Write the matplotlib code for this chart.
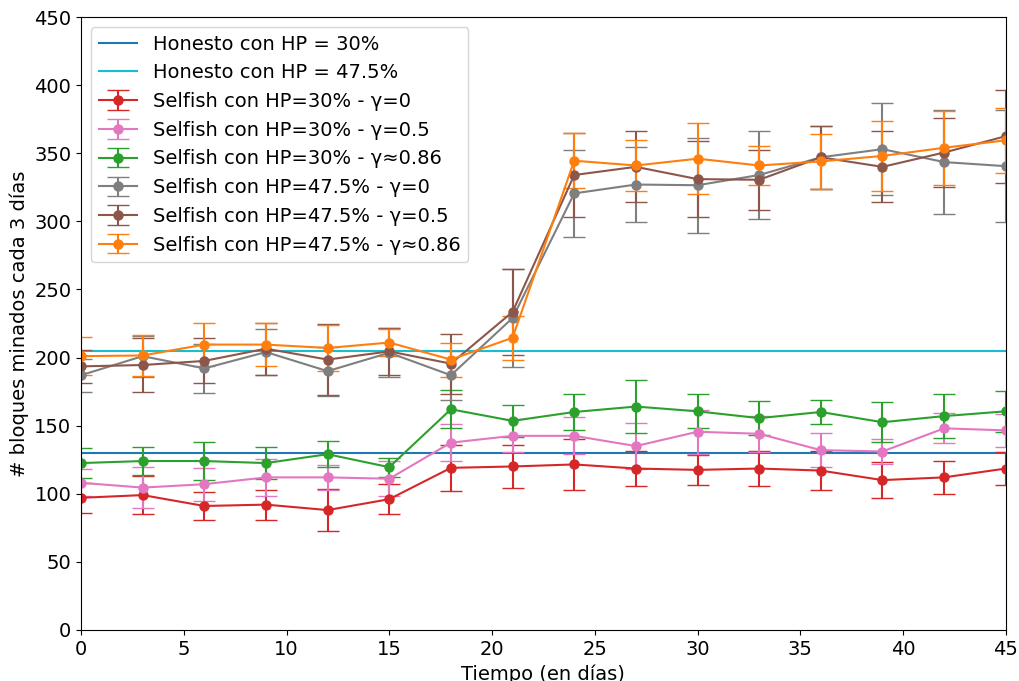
import matplotlib
matplotlib.use("Agg")
import matplotlib.pyplot as plt
import numpy as np

# tiempo en días (una medición cada 3 días)
dias = np.arange(0, 46, 3)

honesto_30 = 130
honesto_475 = 205

# Selfish HP=30%
s30_g0 = [97, 99, 91, 92, 88, 96, 119, 120, 121.5, 118.5, 117.5, 118.5, 117, 110, 112, 118.5]
s30_g0_err = [11, 14, 10, 11, 15.5, 11, 17, 16, 18.5, 13, 11, 13, 14.5, 13.5, 12, 12]
s30_g05 = [108, 104.5, 107, 112, 112, 111, 137.5, 142.5, 142.5, 135, 145.5, 144, 132, 131, 148, 146.5]
s30_g05_err = [10, 15, 12, 13.5, 9, 13, 13.5, 12, 13.5, 17, 16, 13, 12.5, 9, 11, 12]
s30_g086 = [122.5, 124, 124, 122.5, 129, 119.5, 162, 153.5, 160, 164, 160.5, 155.5, 160, 152.5, 157, 160.5]
s30_g086_err = [11, 10, 14, 11.5, 9.5, 7, 14, 11.5, 13, 19.5, 12.5, 12.5, 9, 14.5, 16, 15]

# Selfish HP=47.5%
s475_g0 = [187, 201, 192, 204, 190, 203.5, 187, 229, 320.5, 327, 326.5, 334, 347, 353, 343.5, 340.5]
s475_g0_err = [12, 15, 18, 17, 18, 18, 18, 36, 32, 27.5, 35, 32, 23, 34, 38, 41]
s475_g05 = [193.5, 194.5, 197.5, 206.5, 198.5, 204.5, 195.5, 233.5, 334, 340, 331, 330.5, 347, 340, 350.5, 362.5]
s475_g05_err = [12, 19.5, 16.5, 19, 26, 17, 22, 31.5, 31, 26, 28, 22, 23, 26, 25, 34]
s475_g086 = [201, 201.5, 209.5, 209.5, 207, 211, 198.5, 214.5, 344.5, 341, 346, 341, 344, 348, 354, 359.5]
s475_g086_err = [14, 15, 16, 16, 17, 10, 12.5, 16, 20, 19, 26, 14, 20, 26, 27, 24]

fig, ax = plt.subplots(figsize=(10.19, 6.81), dpi=100)
fig.subplots_adjust(left=0.0795, right=0.987, top=0.975, bottom=0.075)

ax.plot(dias, [honesto_30] * len(dias), color="tab:blue", linewidth=1.5, label="Honesto con HP = 30%")
ax.plot(dias, [honesto_475] * len(dias), color="tab:cyan", linewidth=1.5, label="Honesto con HP = 47.5%")

series = [
    (s30_g0, s30_g0_err, "tab:red", "Selfish con HP=30% - γ=0"),
    (s30_g05, s30_g05_err, "tab:pink", "Selfish con HP=30% - γ=0.5"),
    (s30_g086, s30_g086_err, "tab:green", "Selfish con HP=30% - γ≈0.86"),
    (s475_g0, s475_g0_err, "tab:gray", "Selfish con HP=47.5% - γ=0"),
    (s475_g05, s475_g05_err, "tab:brown", "Selfish con HP=47.5% - γ=0.5"),
    (s475_g086, s475_g086_err, "tab:orange", "Selfish con HP=47.5% - γ≈0.86"),
]
for vals, err, color, label in series:
    ax.errorbar(dias, vals, yerr=err, color=color, marker="o", markersize=6.5,
                linewidth=1.5, capsize=8, elinewidth=1.5, label=label)

ax.set_xlim(0, 45)
ax.set_ylim(0, 450)
ax.set_xticks(range(0, 46, 5))
ax.set_yticks(range(0, 451, 50))
ax.tick_params(labelsize=14)
ax.set_xlabel("Tiempo (en días)", fontsize=14)
ax.set_ylabel("# bloques minados cada 3 días", fontsize=14)
ax.legend(loc="upper left", fontsize=14)

fig.savefig("out.png", dpi=100)
